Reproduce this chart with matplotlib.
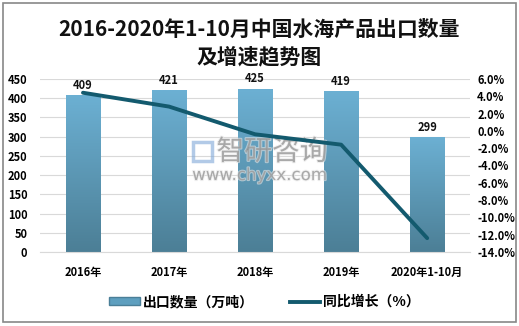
import matplotlib
matplotlib.use("Agg")
import matplotlib.pyplot as plt
import matplotlib.patheffects as pe
import numpy as np
from matplotlib.colors import LinearSegmentedColormap
from matplotlib.patches import Rectangle
from matplotlib.lines import Line2D

plt.rcParams['font.family'] = ['Noto Sans CJK SC', 'DejaVu Sans']

categories = ["2016年", "2017年", "2018年", "2019年", "2020年1-10月"]
export_qty = [409, 421, 425, 419, 299]
growth_pct = [4.4, 2.8, -0.4, -1.6, -12.4]
left_ticks = [0, 50, 100, 150, 200, 250, 300, 350, 400, 450]
right_ticks = [-14, -12, -10, -8, -6, -4, -2, 0, 2, 4, 6]

fig = plt.figure(figsize=(5.19, 3.26), dpi=100)
fig.patches.append(Rectangle((0.006, 0.012), 0.988, 0.978, transform=fig.transFigure,
                             fill=False, edgecolor='#888888', linewidth=1.2))
ax = fig.add_axes([0.077, 0.227, 0.829, 0.531])
x = np.arange(len(categories))
bars = ax.bar(x, export_qty, width=0.4, color='#5E9FBF', edgecolor='#4A7F98', linewidth=0.6, zorder=2)
cmap = LinearSegmentedColormap.from_list('g', ['#4C7F96', '#6CB0D3'])
grad = np.linspace(0, 1, 100).reshape(-1, 1)
for b in bars:
    bx, by, bw, bh = b.get_x(), b.get_y(), b.get_width(), b.get_height()
    im = ax.imshow(grad, extent=[bx, bx + bw, by, by + bh], origin='lower', cmap=cmap,
                   aspect='auto', zorder=2)
    im.set_clip_path(b)
for xi, v in zip(x, export_qty):
    ax.text(xi, v + 8, str(v), ha='center', va='bottom', fontsize=8, fontweight='bold', color='#111111')
ax.set_xlim(-0.5, len(categories) - 0.5)
ax.set_ylim(0, 450)
ax.set_yticks(left_ticks)
ax.set_yticklabels([str(t) for t in left_ticks], fontsize=8, fontweight='bold')
ax.set_xticks(x)
ax.set_xticklabels(categories, fontsize=8, fontweight='bold')
ax.tick_params(axis='both', length=0)
ax.tick_params(axis='x', pad=10)
ax.tick_params(axis='y', pad=9)
ax.grid(axis='y', color='#D9D9D9', linewidth=0.8, zorder=0)
ax.set_axisbelow(True)
for s in ['top', 'right', 'left']:
    ax.spines[s].set_visible(False)
ax.spines['bottom'].set_color('#D9D9D9')

# watermark (drawn inside the bar axes so the line stays on top)
wm_fx = [pe.withStroke(linewidth=1.5, foreground='#E8E8E8', alpha=0.6)]
ax.text(0.524, 0.534, "智研咨询", transform=fig.transFigure, ha='center', va='center', fontsize=20,
        color='#8C8C8C', alpha=0.6, zorder=5, path_effects=wm_fx)
ax.text(0.500, 0.463, "www.chyxx.com", transform=fig.transFigure, ha='center', va='center',
        fontsize=12, color='#8C8C8C', alpha=0.6, zorder=5, family='DejaVu Sans', path_effects=wm_fx)
ax.add_patch(Rectangle((0.372, 0.505), 0.036, 0.058, transform=fig.transFigure, facecolor='none',
                       edgecolor='#7FA8D8', linewidth=2.5, alpha=0.6, zorder=5))

ax2 = ax.twinx()
ax2.plot(x, growth_pct, color='#135A6E', linewidth=2.8, zorder=3, solid_capstyle='round')
ax2.set_ylim(-14, 6)
ax2.set_yticks(right_ticks)
ax2.set_yticklabels([f"{t:.1f}%" for t in right_ticks], fontsize=8, fontweight='bold')
ax2.tick_params(axis='y', length=0, pad=5)
for s in ['top', 'right', 'left', 'bottom']:
    ax2.spines[s].set_visible(False)

fig.text(0.5, 0.911, "2016-2020年1-10月中国水海产品出口数量", ha='center', va='center',
         fontsize=15, fontweight='bold', color='#111111')
fig.text(0.5, 0.827, "及增速趋势图", ha='center', va='center', fontsize=15,
         fontweight='bold', color='#111111')

handles = [Rectangle((0, 0), 1, 1, facecolor='#5E9FBF', edgecolor='#4A7F98'),
           Line2D([0], [0], color='#135A6E', linewidth=2.8)]
fig.legend(handles, ["出口数量（万吨）", "同比增长（%）"], loc='center', bbox_to_anchor=(0.51, 0.074),
           ncol=2, frameon=False, prop={'size': 10, 'weight': 'bold'}, handlelength=2.2,
           handleheight=0.45, columnspacing=2.6, handletextpad=0.2)

fig.savefig("out.png", dpi=100)
